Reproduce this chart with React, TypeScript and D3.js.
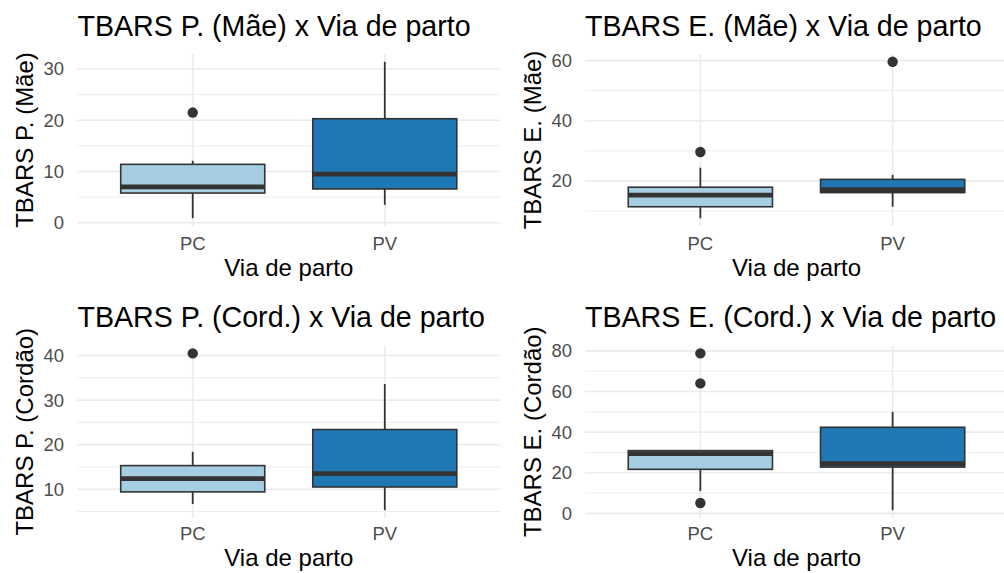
import React, { useRef, useEffect } from 'react';
import * as d3 from 'd3';

// categories shared by all four panels
const categories = ['PC', 'PV'];
const fills = ['#A6CEE3', '#1F78B4'];

// box stats per category: [lower whisker, q1, median, q3, upper whisker]
const pMaeStats = [[0.9, 5.8, 7.0, 11.4, 12.1], [3.5, 6.6, 9.5, 20.3, 31.4]];
const pMaeOutliers = [[21.5], []];
const pMaeTicks = [0, 10, 20, 30];

const eMaeStats = [[7.6, 11.4, 15.3, 17.9, 24.4], [11.4, 16.1, 17.1, 20.5, 22.0]];
const eMaeOutliers = [[29.6], [59.6]];
const eMaeTicks = [20, 40, 60];

const pCordStats = [[6.7, 9.4, 12.4, 15.3, 18.4], [5.3, 10.5, 13.5, 23.4, 33.6]];
const pCordOutliers = [[40.5], []];
const pCordTicks = [10, 20, 30, 40];

const eCordStats = [[11.0, 21.7, 29.4, 30.9, 31.0], [1.6, 22.8, 24.5, 42.4, 50.0]];
const eCordOutliers = [[78.8, 64.0, 5.1], []];
const eCordTicks = [0, 20, 40, 60, 80];

const titles = [
    'TBARS P. (Mãe) x Via de parto',
    'TBARS E. (Mãe) x Via de parto',
    'TBARS P. (Cord.) x Via de parto',
    'TBARS E. (Cord.) x Via de parto',
];
const yLabels = ['TBARS P. (Mãe)', 'TBARS E. (Mãe)', 'TBARS P. (Cordão)', 'TBARS E. (Cordão)'];
const xLabel = 'Via de parto';

const FONT = '"Liberation Sans", Arial, Helvetica, sans-serif';
const DARK = '#333333';
const GRID = '#EBEBEB';

const cols = [
    { left: 77.5, right: 500, ytickX: 64, ylabX: 33 },
    { left: 585, right: 1008, ytickX: 572, ylabX: 541 },
];
const rows = [
    { top: 54, bottom: 226, titleY: 36, tickY: 250, xlabY: 276 },
    { top: 345.5, bottom: 518, titleY: 327, tickY: 540, xlabY: 566 },
];

const panels = [
    { stats: pMaeStats, outliers: pMaeOutliers, ticks: pMaeTicks, col: 0, row: 0 },
    { stats: eMaeStats, outliers: eMaeOutliers, ticks: eMaeTicks, col: 1, row: 0 },
    { stats: pCordStats, outliers: pCordOutliers, ticks: pCordTicks, col: 0, row: 1 },
    { stats: eCordStats, outliers: eCordOutliers, ticks: eCordTicks, col: 1, row: 1 },
];

export default function App() {
    const ref = useRef<SVGSVGElement>(null);

    useEffect(() => {
        const svg = d3.select(ref.current);
        svg.selectAll('*').remove();

        panels.forEach((p, i) => {
            const c = cols[p.col];
            const r = rows[p.row];
            const g = svg.append('g');

            const all = p.stats.flat().concat(p.outliers.flat());
            const [mn, mx] = d3.extent(all) as [number, number];
            const pad = (mx - mn) * 0.05;
            const y = d3.scaleLinear().domain([mn - pad, mx + pad]).range([r.bottom, r.top]);
            // discrete axis, ggplot style expansion of 0.6 on each side
            const x = d3.scaleLinear().domain([0.4, categories.length + 0.6]).range([c.left, c.right]);
            const unit = x(2) - x(1);
            const boxW = unit * 0.75;

            // minor grid at midpoints
            const step = p.ticks[1] - p.ticks[0];
            const minor: number[] = [];
            for (let v = p.ticks[0] - step / 2; v <= mx + pad; v += step) {
                if (v >= mn - pad && v <= mx + pad) minor.push(v);
            }
            g.selectAll('.minor')
                .data(minor)
                .enter()
                .append('line')
                .attr('x1', c.left).attr('x2', c.right)
                .attr('y1', d => y(d)).attr('y2', d => y(d))
                .attr('stroke', GRID).attr('stroke-width', 0.9);

            g.selectAll('.major')
                .data(p.ticks)
                .enter()
                .append('line')
                .attr('x1', c.left).attr('x2', c.right)
                .attr('y1', d => y(d)).attr('y2', d => y(d))
                .attr('stroke', GRID).attr('stroke-width', 1.6);

            g.selectAll('.vgrid')
                .data(categories)
                .enter()
                .append('line')
                .attr('x1', (d, k) => x(k + 1)).attr('x2', (d, k) => x(k + 1))
                .attr('y1', r.top).attr('y2', r.bottom)
                .attr('stroke', GRID).attr('stroke-width', 1.6);

            // y tick labels
            g.selectAll('.ytick')
                .data(p.ticks)
                .enter()
                .append('text')
                .attr('x', c.ytickX)
                .attr('y', d => y(d))
                .attr('dy', '0.35em')
                .attr('text-anchor', 'end')
                .style('font-family', FONT)
                .style('font-size', '18.5px')
                .attr('fill', '#4D4D4D')
                .text(d => d);

            // x tick labels
            g.selectAll('.xtick')
                .data(categories)
                .enter()
                .append('text')
                .attr('x', (d, k) => x(k + 1))
                .attr('y', r.tickY)
                .attr('text-anchor', 'middle')
                .style('font-family', FONT)
                .style('font-size', '18.5px')
                .attr('fill', '#4D4D4D')
                .text(d => d);

            // boxes
            p.stats.forEach((s, k) => {
                const cx = x(k + 1);
                const [lo, q1, med, q3, hi] = s;
                g.append('line')
                    .attr('x1', cx).attr('x2', cx)
                    .attr('y1', y(q3)).attr('y2', y(hi))
                    .attr('stroke', DARK).attr('stroke-width', 1.8);
                g.append('line')
                    .attr('x1', cx).attr('x2', cx)
                    .attr('y1', y(q1)).attr('y2', y(lo))
                    .attr('stroke', DARK).attr('stroke-width', 1.8);
                g.append('rect')
                    .attr('x', cx - boxW / 2)
                    .attr('y', y(q3))
                    .attr('width', boxW)
                    .attr('height', y(q1) - y(q3))
                    .attr('fill', fills[k])
                    .attr('stroke', DARK)
                    .attr('stroke-width', 1.6);
                g.append('line')
                    .attr('x1', cx - boxW / 2).attr('x2', cx + boxW / 2)
                    .attr('y1', y(med)).attr('y2', y(med))
                    .attr('stroke', DARK).attr('stroke-width', 4.8);
                g.selectAll('.out' + k)
                    .data(p.outliers[k])
                    .enter()
                    .append('circle')
                    .attr('cx', cx)
                    .attr('cy', d => y(d))
                    .attr('r', 5.2)
                    .attr('fill', DARK);
            });

            // titles
            g.append('text')
                .attr('x', c.left)
                .attr('y', r.titleY)
                .style('font-family', FONT)
                .style('font-size', '28.6px')
                .attr('fill', '#000')
                .text(titles[i]);

            g.append('text')
                .attr('x', (c.left + c.right) / 2)
                .attr('y', r.xlabY)
                .attr('text-anchor', 'middle')
                .style('font-family', FONT)
                .style('font-size', '24px')
                .attr('fill', '#000')
                .text(xLabel);

            g.append('text')
                .attr('transform', `translate(${c.ylabX},${(r.top + r.bottom) / 2}) rotate(-90)`)
                .attr('text-anchor', 'middle')
                .style('font-family', FONT)
                .style('font-size', '24px')
                .attr('fill', '#000')
                .text(yLabels[i]);
        });
    }, []);

    return (
        <svg
            ref={ref}
            width={1004}
            height={573}
            style={{ position: 'absolute', left: 0, top: 0, background: '#fff' }}
        ></svg>
    );
}
